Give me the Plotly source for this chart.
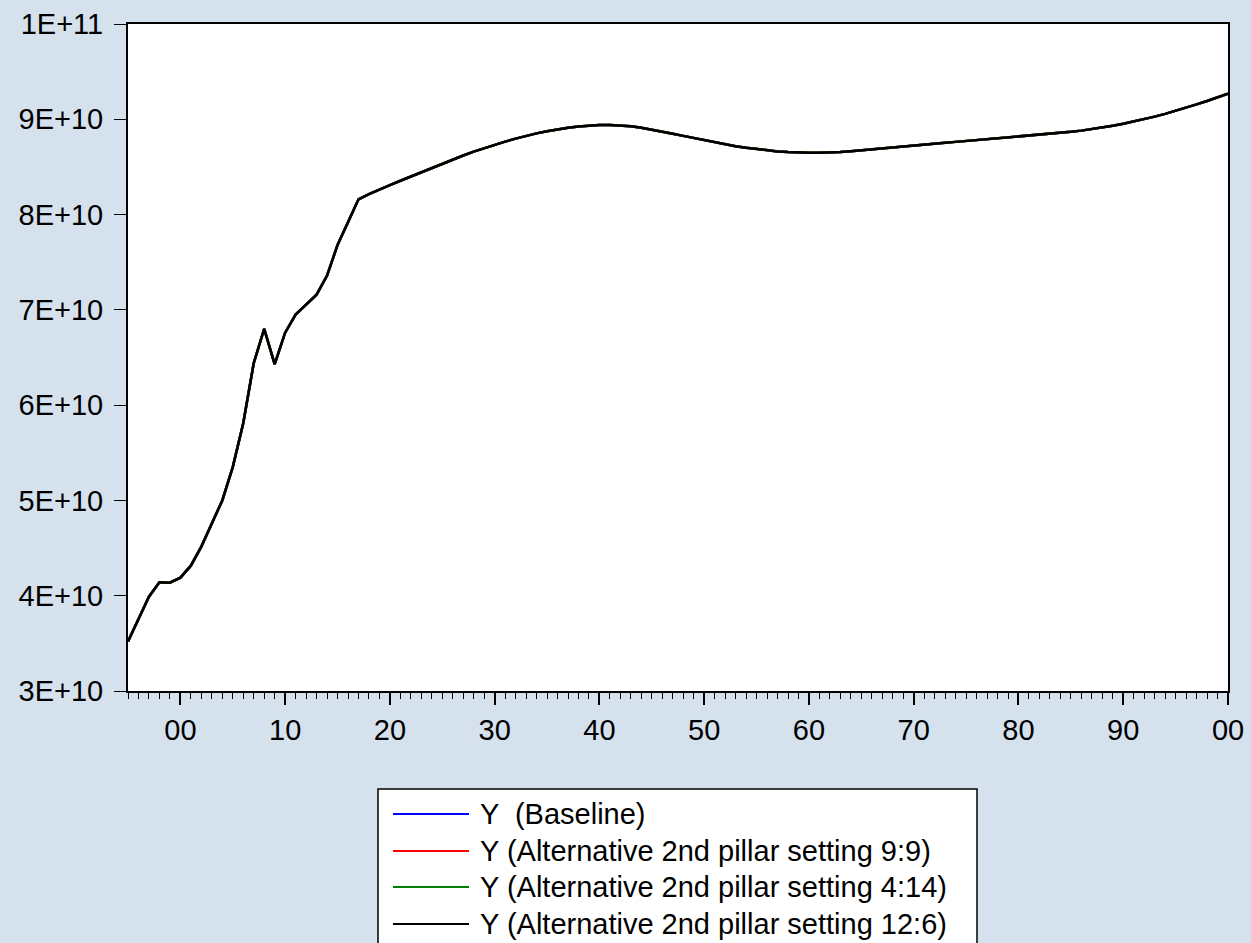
import plotly.graph_objects as go

# Annual output Y, 1995-2100, in units of 1E+10
years = list(range(1995, 2101))

y_baseline = [
    3.52, 3.76, 3.99, 4.14, 4.137, 4.19, 4.315, 4.515, 4.76, 5.00,        # 1995-2004
    5.35, 5.81, 6.44, 6.80, 6.43, 6.76, 6.95, 7.05, 7.16, 7.36,           # 2005-2014
    7.68, 7.92, 8.16, 8.215, 8.265, 8.31, 8.355, 8.40, 8.445, 8.49,       # 2015-2024
    8.535, 8.578, 8.62, 8.66, 8.698, 8.733, 8.766, 8.797, 8.826, 8.852,   # 2025-2034
    8.875, 8.895, 8.912, 8.925, 8.934, 8.939, 8.940, 8.936, 8.926, 8.911, # 2035-2044
    8.892, 8.871, 8.849, 8.826, 8.803, 8.780, 8.758, 8.737, 8.718, 8.701, # 2045-2054
    8.686, 8.673, 8.663, 8.656, 8.651, 8.649, 8.649, 8.651, 8.656, 8.664, # 2055-2064
    8.673, 8.683, 8.693, 8.703, 8.713, 8.723, 8.733, 8.743, 8.753, 8.763, # 2065-2074
    8.772, 8.781, 8.790, 8.799, 8.808, 8.817, 8.826, 8.835, 8.845, 8.856, # 2075-2084
    8.868, 8.881, 8.896, 8.913, 8.932, 8.953, 8.976, 9.001, 9.028, 9.057, # 2085-2094
    9.088, 9.121, 9.156, 9.192, 9.230, 9.270,                             # 2095-2100
]
# The alternative second-pillar settings track the baseline almost exactly
y_alt_9_9 = list(y_baseline)
y_alt_4_14 = list(y_baseline)
y_alt_12_6 = list(y_baseline)

series_names = [
    "Y  (Baseline)",
    "Y (Alternative 2nd pillar setting 9:9)",
    "Y (Alternative 2nd pillar setting 4:14)",
    "Y (Alternative 2nd pillar setting 12:6)",
]
series_values = [y_baseline, y_alt_9_9, y_alt_4_14, y_alt_12_6]
series_colors = ["#0000FF", "#FF0000", "#008000", "#000000"]

y_tick_vals = [3e10, 4e10, 5e10, 6e10, 7e10, 8e10, 9e10, 1e11]
y_tick_text = ["3E+10", "4E+10", "5E+10", "6E+10", "7E+10", "8E+10", "9E+10", "1E+11"]
x_tick_vals = [2000, 2010, 2020, 2030, 2040, 2050, 2060, 2070, 2080, 2090, 2100]
x_tick_text = ["00", "10", "20", "30", "40", "50", "60", "70", "80", "90", "00"]

BG = "#D5E2ED"
FONT = "Liberation Sans, Arial, sans-serif"
FONT_SIZE = 29

W, H = 1251, 943
M_L, M_R, M_T, M_B = 128, 23, 24, 252
PLOT_W = W - M_L - M_R
PLOT_H = H - M_T - M_B


def px_x(px):
    """Horizontal pixel position -> paper coordinate."""
    return (px - M_L) / PLOT_W


def px_y(py):
    """Vertical pixel position (from top) -> paper coordinate."""
    return (H - M_B - py) / PLOT_H


fig = go.Figure()
for name, vals, color in zip(series_names, series_values, series_colors):
    fig.add_trace(go.Scatter(
        x=years,
        y=[v * 1e10 for v in vals],
        mode="lines",
        name=name,
        showlegend=False,
        line=dict(color=color, width=2.5),
    ))

# Legend box below the chart, drawn as a framed panel with line keys
shapes = [dict(
    type="rect", xref="paper", yref="paper",
    x0=px_x(378), x1=px_x(977), y0=px_y(789), y1=px_y(975),
    fillcolor="white", line=dict(color="black", width=1.5), layer="above",
)]
annotations = []
row_y = [814, 851, 887, 924]
for name, color, ry in zip(series_names, series_colors, row_y):
    shapes.append(dict(
        type="line", xref="paper", yref="paper",
        x0=px_x(393), x1=px_x(469), y0=px_y(ry), y1=px_y(ry),
        line=dict(color=color, width=2), layer="above",
    ))
    annotations.append(dict(
        xref="paper", yref="paper", x=px_x(478), y=px_y(ry),
        xanchor="left", yanchor="middle", text=name, showarrow=False,
        font=dict(family=FONT, size=FONT_SIZE, color="black"),
    ))

fig.update_layout(
    width=W,
    height=H,
    margin=dict(l=M_L, r=M_R, t=M_T, b=M_B, autoexpand=False),
    paper_bgcolor=BG,
    plot_bgcolor="white",
    font=dict(family=FONT, size=FONT_SIZE, color="black"),
    showlegend=False,
    shapes=shapes,
    annotations=annotations,
)

fig.update_xaxes(
    range=[1995, 2100],
    tickmode="array", tickvals=x_tick_vals, ticktext=x_tick_text,
    ticks="outside", ticklen=12, tickwidth=1.5, tickcolor="black",
    minor=dict(tickmode="linear", tick0=1995, dtick=1, ticks="outside",
               ticklen=6, tickwidth=1, tickcolor="black", showgrid=False),
    showgrid=False, zeroline=False, automargin=False,
    showline=True, linecolor="black", linewidth=2, mirror=True,
    ticklabelstandoff=0,
)
fig.update_yaxes(
    range=[3e10, 1e11],
    tickmode="array", tickvals=y_tick_vals, ticktext=y_tick_text,
    ticks="outside", ticklen=12, tickwidth=1, tickcolor="black",
    showgrid=False, zeroline=False, automargin=False,
    showline=True, linecolor="black", linewidth=2, mirror=True,
    ticklabelstandoff=5,
)

fig.write_html("out.html")
